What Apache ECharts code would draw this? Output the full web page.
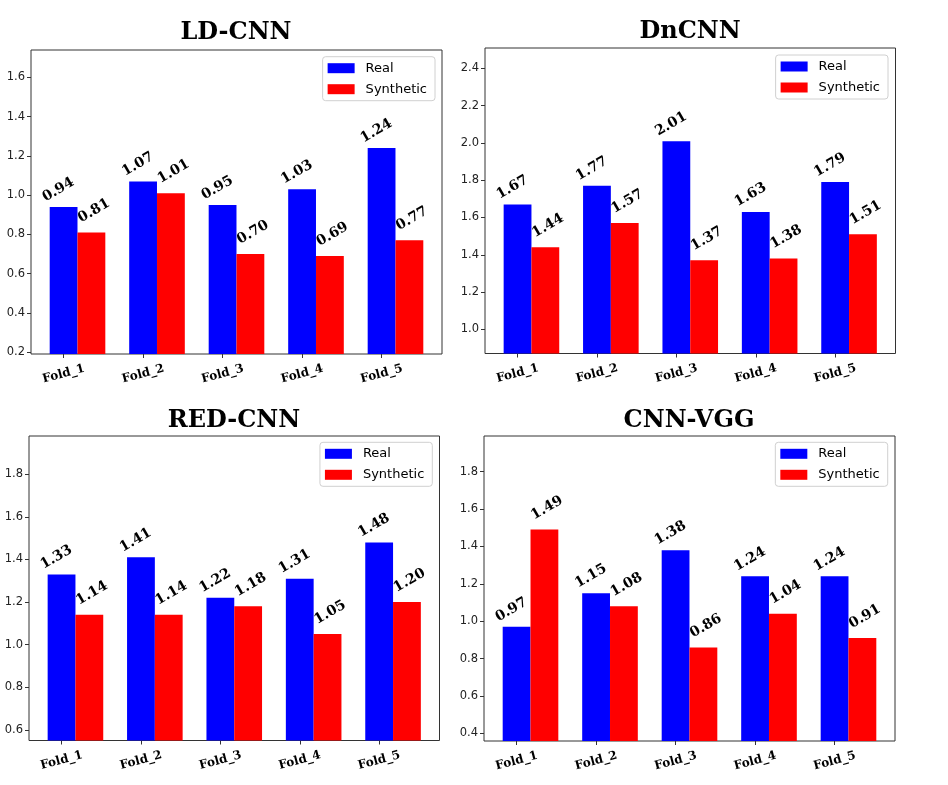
<!DOCTYPE html>
<html>
<head>
<meta charset="utf-8">
<script src="https://cdn.jsdelivr.net/npm/echarts@6/dist/echarts.min.js"></script>
<style>html,body{margin:0;padding:0;background:#fff}#c{width:948px;height:785px}</style>
</head>
<body>
<div id="c"></div>
<script>
const categories = ['Fold_1', 'Fold_2', 'Fold_3', 'Fold_4', 'Fold_5'];
const titles = ['LD-CNN', 'DnCNN', 'RED-CNN', 'CNN-VGG'];
const seriesNames = ['Real', 'Synthetic'];

const ldReal = [0.94, 1.07, 0.95, 1.03, 1.24];
const ldSyn  = [0.81, 1.01, 0.70, 0.69, 0.77];
const dnReal = [1.67, 1.77, 2.01, 1.63, 1.79];
const dnSyn  = [1.44, 1.57, 1.37, 1.38, 1.51];
const redReal = [1.33, 1.41, 1.22, 1.31, 1.48];
const redSyn  = [1.14, 1.14, 1.18, 1.05, 1.20];
const vggReal = [0.97, 1.15, 1.38, 1.24, 1.24];
const vggSyn  = [1.49, 1.08, 0.86, 1.04, 0.91];

const ldTicks  = [0.2, 0.4, 0.6, 0.8, 1.0, 1.2, 1.4, 1.6];
const dnTicks  = [1.0, 1.2, 1.4, 1.6, 1.8, 2.0, 2.2, 2.4];
const redTicks = [0.6, 0.8, 1.0, 1.2, 1.4, 1.6, 1.8];
const vggTicks = [0.4, 0.6, 0.8, 1.0, 1.2, 1.4, 1.6, 1.8];

const realData = [ldReal, dnReal, redReal, vggReal];
const synData = [ldSyn, dnSyn, redSyn, vggSyn];
const yTicks = [ldTicks, dnTicks, redTicks, vggTicks];

// layout (styles/positions)
const grids = [
  {left: 31, top: 50, width: 411, height: 304},
  {left: 485, top: 48, width: 410.5, height: 305.5},
  {left: 29, top: 436, width: 410.5, height: 304.5},
  {left: 484, top: 436, width: 411, height: 305}
];
const titlePos = [{x: 236, y: 21}, {x: 690, y: 20}, {x: 234, y: 408.5}, {x: 689, y: 408.5}];
const legendPos = [{right: 513, top: 56.7}, {right: 60, top: 55}, {right: 515.7, top: 442.3}, {right: 60.3, top: 442.3}];
const BAR_W = 0.35;       // bar width in category units
const PAD = 0.5;          // y-range padding around data
const X_MIN = -0.41, X_MAX = 4.76;

const serif = 'DejaVu Serif';
const sans = 'DejaVu Sans';

const option = {
  animation: false,
  backgroundColor: '#fff',
  title: titles.map((t, k) => ({
    text: t, left: titlePos[k].x, top: titlePos[k].y, textAlign: 'center', padding: 0,
    textStyle: {fontFamily: serif, fontWeight: 'bold', fontSize: 24, color: '#000'}
  })),
  legend: legendPos.map(p => ({
    data: seriesNames, orient: 'vertical', right: p.right, top: p.top,
    icon: 'rect', itemWidth: 27, itemHeight: 10, itemGap: 8,
    padding: [5, 8, 5, 5], borderColor: '#d0d0d0', borderWidth: 1, borderRadius: 3,
    backgroundColor: 'rgba(255,255,255,0.8)',
    textStyle: {fontFamily: sans, fontSize: 13, color: '#000', padding: [0, 0, 0, 6]}
  })),
  grid: grids.map(g => Object.assign({show: true, borderColor: '#333', borderWidth: 1, backgroundColor: 'transparent'}, g)),
  xAxis: grids.map((g, k) => ({
    type: 'value', gridIndex: k, min: X_MIN, max: X_MAX, position: 'bottom',
    splitLine: {show: false}, axisLine: {show: false, onZero: false},
    axisTick: {show: true, length: 4, lineStyle: {color: '#333'}, customValues: categories.map((c, i) => i)},
    axisLabel: {
      customValues: categories.map((c, i) => i),
      formatter: v => categories[Math.round(v)],
      rotate: 15, align: 'center', verticalAlign: 'middle', margin: 20,
      fontFamily: serif, fontWeight: 'bold', fontSize: 12, color: '#000'
    }
  })),
  yAxis: grids.map((g, k) => {
    const all = realData[k].concat(synData[k]);
    return {
      type: 'value', gridIndex: k, position: 'left',
      min: +(Math.min(...all) - PAD).toFixed(2), max: +(Math.max(...all) + PAD).toFixed(2),
      splitLine: {show: false}, axisLine: {show: false, onZero: false},
      axisTick: {show: true, length: 4, lineStyle: {color: '#333'}, customValues: yTicks[k]},
      axisLabel: {customValues: yTicks[k], formatter: v => v.toFixed(1), margin: 6,
        fontFamily: sans, fontSize: 11.5, color: '#222'}
    };
  }),
  series: []
};

const mkLabel = (dx) => ({
  show: true, position: 'top', distance: 12, rotate: 30, offset: [dx, 0],
  formatter: p => p.value[1].toFixed(2),
  fontFamily: serif, fontWeight: 'bold', fontSize: 14, color: '#000'
});

for (let k = 0; k < 4; k++) {
  option.series.push({
    name: 'Real', type: 'bar', xAxisIndex: k, yAxisIndex: k,
    barWidth: 27.8, barGap: '-100%',
    itemStyle: {color: '#0000ff'},
    label: mkLabel(-2),
    data: realData[k].map((v, i) => [i, v])
  });
  option.series.push({
    name: 'Synthetic', type: 'bar', xAxisIndex: k, yAxisIndex: k,
    barWidth: 27.8, barGap: '-100%',
    itemStyle: {color: '#ff0000'},
    label: mkLabel(7),
    data: synData[k].map((v, i) => [i + BAR_W, v])
  });
}

const chart = echarts.init(document.getElementById('c'), null, {renderer: 'canvas'});
chart.setOption(option);
</script>
</body>
</html>
